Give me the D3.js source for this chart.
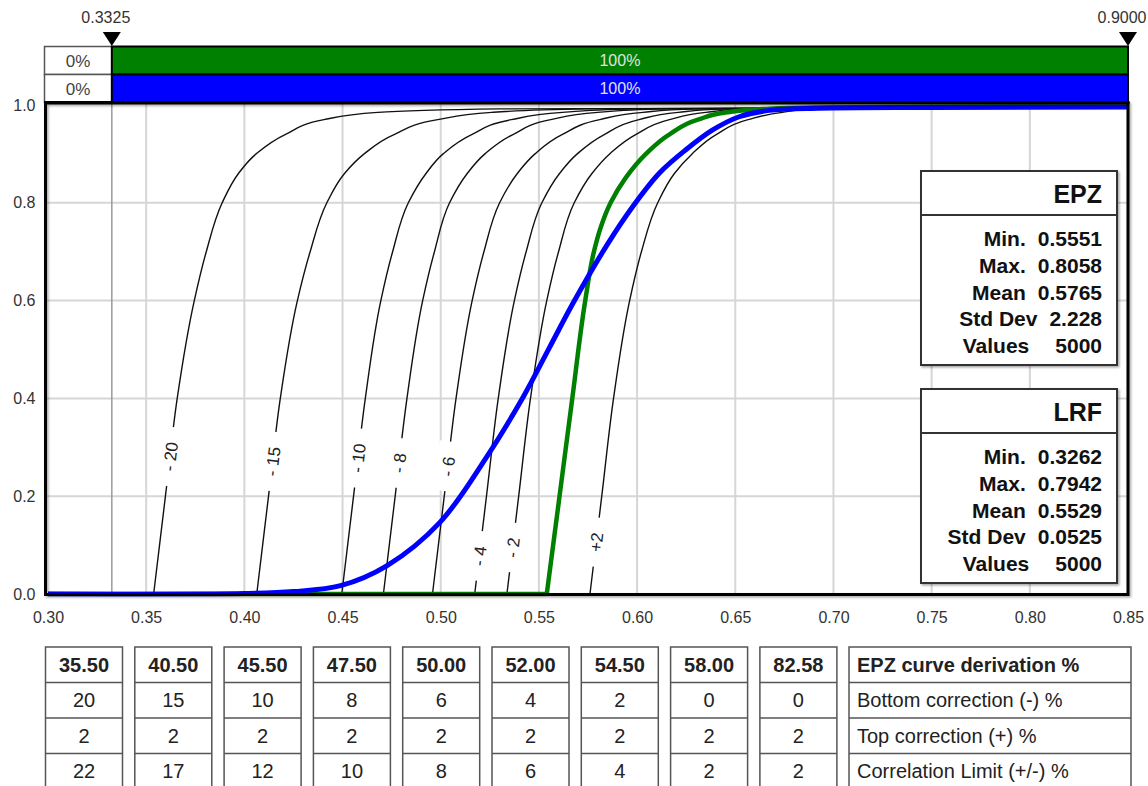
<!DOCTYPE html>
<html>
<head>
<meta charset="utf-8">
<script src="https://cdn.jsdelivr.net/npm/d3@7"></script>
<style>
  html, body { margin: 0; padding: 0; background: #fff; }
  svg { display: block; font-family: "Liberation Sans", Arial, Helvetica, sans-serif; }
</style>
</head>
<body>
<svg id="chart" width="1148" height="786"></svg>
<script>
// ---------------- data ----------------
const xTicks = [0.30, 0.35, 0.40, 0.45, 0.50, 0.55, 0.60, 0.65, 0.70, 0.75, 0.80, 0.85];
const yTicks = [0.0, 0.2, 0.4, 0.6, 0.8, 1.0];
const markerValues = [0.3325, 0.9000];

// share of each distribution below / inside the marker window
const bandSeries = ["EPZ", "LRF"];
const bandColors = ["#008000", "#0000ff"];
const belowShare = [0, 0];
const insideShare = [100, 100];

// EPZ cumulative curve (flat at zero up to its minimum, then rising)
const epzX = [0.30, 0.554, 0.5605, 0.567, 0.5736, 0.578, 0.5815, 0.5865, 0.594, 0.6045, 0.6165, 0.631, 0.646, 0.665, 0.69, 0.75, 0.85];
const epzY = [0, 0, 0.2, 0.4, 0.6, 0.7, 0.75, 0.8, 0.85, 0.9, 0.94, 0.97, 0.985, 0.992, 0.995, 0.9965, 0.997];

// LRF cumulative curve
const lrfX = [0.30, 0.40, 0.425, 0.449, 0.4727, 0.4997, 0.5235, 0.542, 0.5555, 0.5677, 0.5844, 0.5979, 0.6114, 0.625, 0.6385, 0.652, 0.6673, 0.6926, 0.75, 0.85];
const lrfY = [0, 0.001, 0.005, 0.017, 0.058, 0.147, 0.281, 0.403, 0.505, 0.597, 0.712, 0.793, 0.861, 0.909, 0.949, 0.976, 0.989, 0.9935, 0.995, 0.996];

// correction curves: x position of each curve at these cumulative levels
const familyLevels = [0, 0.2, 0.4, 0.6, 0.7, 0.8, 0.86, 0.9, 0.94, 0.97, 0.985, 0.992, 0.996];
const familyLabels = ["- 20", "- 15", "- 10", "- 8", "- 6", "- 4", "- 2", "+2"];
const curveMinus20 = [0.3538, 0.3598, 0.3658, 0.3745, 0.3806, 0.3887, 0.397, 0.406, 0.421, 0.4405, 0.468, 0.53, 0.85];
const curveMinus15 = [0.4063, 0.4123, 0.4183, 0.427, 0.4335, 0.442, 0.451, 0.461, 0.4765, 0.4985, 0.526, 0.575, 0.85];
const curveMinus10 = [0.4496, 0.4556, 0.4616, 0.4695, 0.4755, 0.4835, 0.4925, 0.5012, 0.516, 0.536, 0.562, 0.60, 0.85];
const curveMinus8  = [0.4708, 0.4768, 0.4828, 0.4908, 0.4968, 0.5045, 0.5135, 0.5225, 0.537, 0.556, 0.58, 0.615, 0.85];
const curveMinus6  = [0.4958, 0.5018, 0.5078, 0.516, 0.522, 0.530, 0.539, 0.548, 0.562, 0.581, 0.603, 0.63, 0.85];
const curveMinus4  = [0.5173, 0.5233, 0.5293, 0.5375, 0.5435, 0.5515, 0.5605, 0.5695, 0.5835, 0.601, 0.621, 0.645, 0.85];
const curveMinus2  = [0.5337, 0.5397, 0.5457, 0.554, 0.560, 0.568, 0.577, 0.586, 0.5995, 0.6165, 0.635, 0.655, 0.85];
const curvePlus2   = [0.576, 0.582, 0.588, 0.5962, 0.6022, 0.6105, 0.619, 0.628, 0.6405, 0.6565, 0.674, 0.69, 0.85];
const familyCurves = [curveMinus20, curveMinus15, curveMinus10, curveMinus8, curveMinus6, curveMinus4, curveMinus2, curvePlus2];
const familyLabelLevels = [0.281, 0.271, 0.278, 0.268, 0.261, 0.078, 0.095, 0.106];

// legend statistics
const statNames = ["Min.", "Max.", "Mean", "Std Dev", "Values"];
const epzStats = ["0.5551", "0.8058", "0.5765", "2.228", "5000"];
const lrfStats = ["0.3262", "0.7942", "0.5529", "0.0525", "5000"];

// derivation table
const derivation = ["35.50", "40.50", "45.50", "47.50", "50.00", "52.00", "54.50", "58.00", "82.58"];
const bottomCorrection = [20, 15, 10, 8, 6, 4, 2, 0, 0];
const topCorrection = [2, 2, 2, 2, 2, 2, 2, 2, 2];
const correlationLimit = [22, 17, 12, 10, 8, 6, 4, 2, 2];
const rowTitles = ["EPZ curve derivation %", "Bottom correction (-) %", "Top correction (+) %", "Correlation Limit (+/-) %"];

// ---------------- drawing ----------------
const svg = d3.select("#chart");
const x = d3.scaleLinear().domain([0.30, 0.85]).range([48, 1128]).clamp(true);
const y = d3.scaleLinear().domain([0, 1]).range([594, 105]);
const plotLeft = 45.5, plotRight = 1128, plotTop = 103, plotBottom = 594.5;

const defs = svg.append("defs");
const sh = defs.append("filter").attr("id", "soft").attr("x", "-10%").attr("y", "-10%").attr("width", "130%").attr("height", "130%");
sh.append("feDropShadow").attr("dx", 1.5).attr("dy", 1.5).attr("stdDeviation", 1.2)
  .attr("flood-color", "#000").attr("flood-opacity", 0.35);
const lsh = defs.append("filter").attr("id", "lineSoft").attr("x", "-5%").attr("y", "-50%").attr("width", "110%").attr("height", "200%");
lsh.append("feDropShadow").attr("dx", 0.8).attr("dy", 0.8).attr("stdDeviation", 0.8)
  .attr("flood-color", "#000").attr("flood-opacity", 0.3);
defs.append("clipPath").attr("id", "plotClip").append("rect")
  .attr("x", plotLeft).attr("y", plotTop - 4).attr("width", plotRight - plotLeft).attr("height", plotBottom - plotTop + 6);

// grid
const grid = svg.append("g");
grid.selectAll("line.gx").data(xTicks.slice(1, -1)).join("line")
  .attr("x1", d => x(d)).attr("x2", d => x(d)).attr("y1", plotTop).attr("y2", plotBottom)
  .attr("stroke", "#d6d6d6").attr("stroke-width", 2);
grid.selectAll("line.gy").data(yTicks.slice(1, -1)).join("line")
  .attr("x1", plotLeft).attr("x2", plotRight).attr("y1", d => y(d)).attr("y2", d => y(d))
  .attr("stroke", "#d6d6d6").attr("stroke-width", 2);
grid.append("line")
  .attr("x1", x(markerValues[0])).attr("x2", x(markerValues[0])).attr("y1", plotTop).attr("y2", plotBottom)
  .attr("stroke", "#9a9a9a").attr("stroke-width", 1.5);

// steep cumulative curves are interpolated monotone in y; the S-shaped LRF uses a centripetal spline
const lineY = d3.line().x(d => x(d[0])).y(d => y(d[1])).curve(d3.curveMonotoneY);
const lineS = d3.line().x(d => x(d[0])).y(d => y(d[1])).curve(d3.curveCatmullRom.alpha(0.5));
const lineFlat = d3.line().x(d => x(d[0])).y(d => y(d[1]));
const plot = svg.append("g").attr("clip-path", "url(#plotClip)");

// correction curves
familyCurves.forEach(xs => {
  const pts = xs.map((v, i) => [v, familyLevels[i]]);
  plot.append("path").attr("d", lineY(pts)).attr("fill", "none")
    .attr("stroke", "#111").attr("stroke-width", 1.4);
});

// curve labels sitting in a gap of their curve
familyCurves.forEach((xs, k) => {
  const L = familyLabelLevels[k];
  let i = 0;
  while (i < familyLevels.length - 2 && familyLevels[i + 1] < L) i++;
  const t = (L - familyLevels[i]) / (familyLevels[i + 1] - familyLevels[i]);
  const vx = xs[i] + t * (xs[i + 1] - xs[i]);
  const px = x(vx), py = y(L);
  const dx = x(xs[i + 1]) - x(xs[i]), dy = y(familyLevels[i + 1]) - y(familyLevels[i]);
  const ang = Math.atan2(dy, dx) * 180 / Math.PI;
  const g = svg.append("g").attr("transform", `translate(${px},${py}) rotate(${ang})`);
  const rect = g.append("rect").attr("fill", "#fff");
  const txt = g.append("text").text(familyLabels[k])
    .attr("text-anchor", "middle").attr("dy", "0.36em")
    .attr("font-size", 17).attr("fill", "#222").style("white-space", "pre");
  const w = txt.node().getComputedTextLength();
  rect.attr("x", -w / 2 - 15).attr("y", -11).attr("width", w + 30).attr("height", 22);
});

// EPZ curve: flat run along zero, then the rising part
const epzPts = epzX.map((v, i) => [v, epzY[i]]);
plot.append("path").attr("d", lineFlat(epzPts.slice(0, 2)) + lineY(epzPts.slice(1)).replace(/^M/, "L"))
  .attr("fill", "none").attr("stroke", "#008000").attr("stroke-width", 4.5).attr("stroke-linejoin", "round");
// LRF curve
plot.append("path").attr("d", lineS(lrfX.map((v, i) => [v, lrfY[i]])))
  .attr("fill", "none").attr("stroke", "#0000ff").attr("stroke-width", 5).attr("stroke-linejoin", "round");

// plot frame
svg.append("rect").attr("x", plotLeft).attr("y", plotTop).attr("width", plotRight - plotLeft)
  .attr("height", plotBottom - plotTop).attr("fill", "none").attr("stroke", "#000").attr("stroke-width", 3)
  .attr("filter", "url(#soft)");

// share bands above the plot
const bandTop = 46.5, bandH = 28;
const xa = x(markerValues[0]), xb = x(markerValues[1]);
bandSeries.forEach((s, i) => {
  const by = bandTop + i * bandH;
  svg.append("rect").attr("x", 44.5).attr("y", by).attr("width", xa - 44.5).attr("height", bandH)
    .attr("fill", "#fff").attr("stroke", "#555").attr("stroke-width", 1.5);
  svg.append("text").attr("x", (44.5 + xa) / 2).attr("y", by + bandH / 2).attr("dy", "0.36em")
    .attr("text-anchor", "middle").attr("font-size", 17).attr("fill", "#444").text(belowShare[i] + "%");
  svg.append("rect").attr("x", xa).attr("y", by).attr("width", xb - xa).attr("height", bandH)
    .attr("fill", bandColors[i]).attr("stroke", "#000").attr("stroke-width", 2);
  svg.append("text").attr("x", (xa + xb) / 2).attr("y", by + bandH / 2).attr("dy", "0.36em")
    .attr("text-anchor", "middle").attr("font-size", 16).attr("fill", "#e2e2e2").text(insideShare[i] + "%");
});
svg.append("line").attr("x1", 44).attr("x2", plotRight + 1.5).attr("y1", plotTop - 0.5).attr("y2", plotTop - 0.5)
  .attr("stroke", "#000").attr("stroke-width", 3);

// window markers
markerValues.forEach(v => {
  const mx = x(v);
  svg.append("path").attr("d", `M${mx - 9},32 L${mx + 9},32 L${mx},46 Z`).attr("fill", "#000");
  svg.append("text").attr("x", mx - 6).attr("y", 23).attr("text-anchor", "middle")
    .attr("font-size", 16).attr("fill", "#333").text(v.toFixed(4));
});

// axes
svg.append("g").attr("transform", `translate(0,${plotBottom + 5})`)
  .call(d3.axisBottom(x).tickValues(xTicks).tickFormat(d3.format(".2f")).tickSize(0).tickPadding(12))
  .call(g => g.select(".domain").remove())
  .call(g => g.selectAll("text").attr("font-size", 16).attr("fill", "#333").attr("font-family", "Liberation Sans, Arial, sans-serif"));
svg.append("g").attr("transform", `translate(${plotLeft - 10},0)`)
  .call(d3.axisLeft(y).tickValues(yTicks).tickFormat(d3.format(".1f")).tickSize(0).tickPadding(0))
  .call(g => g.select(".domain").remove())
  .call(g => g.selectAll("text").attr("font-size", 16).attr("fill", "#333").attr("font-family", "Liberation Sans, Arial, sans-serif"));

// legend boxes
function legendBox(top, name, color, stats) {
  const g = svg.append("g");
  const left = 921, width = 196, height = 194, headH = 44;
  g.append("rect").attr("x", left).attr("y", top).attr("width", width).attr("height", height)
    .attr("fill", "#fff").attr("stroke", "#333").attr("stroke-width", 2).attr("filter", "url(#soft)");
  g.append("line").attr("x1", left).attr("x2", left + width).attr("y1", top + headH).attr("y2", top + headH)
    .attr("stroke", "#333").attr("stroke-width", 2);
  g.append("line").attr("x1", 936).attr("x2", 1034).attr("y1", top + 23).attr("y2", top + 23)
    .attr("stroke", color).attr("stroke-width", 5).attr("filter", "url(#lineSoft)");
  g.append("text").attr("x", 1102).attr("y", top + 32).attr("text-anchor", "end")
    .attr("font-size", 25).attr("font-weight", "bold").attr("fill", "#111").text(name);
  statNames.forEach((s, i) => {
    const by = top + 75 + i * 26.8;
    const val = g.append("text").attr("x", 1102).attr("y", by).attr("text-anchor", "end")
      .attr("font-size", 21).attr("font-weight", "bold").attr("fill", "#111").text(stats[i]);
    const w = val.node().getComputedTextLength();
    const gap = s === "Values" ? 26 : 12;
    g.append("text").attr("x", 1102 - w - gap).attr("y", by).attr("text-anchor", "end")
      .attr("font-size", 21).attr("font-weight", "bold").attr("fill", "#111").text(s);
  });
}
legendBox(171, "EPZ", "#008000", epzStats);
legendBox(389, "LRF", "#0000ff", lrfStats);

// derivation table
const tableTop = 647, rowH = 35.5, cellW = 77;
const tableRows = [derivation, bottomCorrection, topCorrection, correlationLimit];
const colX = d3.scaleLinear().domain([0, 1]).range([45.5, 134.8]);
derivation.forEach((d, c) => {
  const cx = colX(c);
  svg.append("rect").attr("x", cx).attr("y", tableTop).attr("width", cellW).attr("height", rowH * 4)
    .attr("fill", "#fff").attr("stroke", "#555").attr("stroke-width", 1.5);
  tableRows.forEach((row, r) => {
    if (r > 0) svg.append("line").attr("x1", cx).attr("x2", cx + cellW)
      .attr("y1", tableTop + r * rowH).attr("y2", tableTop + r * rowH).attr("stroke", "#555").attr("stroke-width", 1.5);
    svg.append("text").attr("x", cx + cellW / 2).attr("y", tableTop + r * rowH + rowH / 2).attr("dy", "0.36em")
      .attr("text-anchor", "middle").attr("font-size", 20).attr("font-weight", r === 0 ? "bold" : "normal")
      .attr("fill", "#222").text(row[c]);
  });
});
const labX = 849, labW = 282;
svg.append("rect").attr("x", labX).attr("y", tableTop).attr("width", labW).attr("height", rowH * 4)
  .attr("fill", "#fff").attr("stroke", "#555").attr("stroke-width", 1.5);
rowTitles.forEach((t, r) => {
  if (r > 0) svg.append("line").attr("x1", labX).attr("x2", labX + labW)
    .attr("y1", tableTop + r * rowH).attr("y2", tableTop + r * rowH).attr("stroke", "#555").attr("stroke-width", 1.5);
  svg.append("text").attr("x", labX + 8).attr("y", tableTop + r * rowH + rowH / 2).attr("dy", "0.36em")
    .attr("font-size", 20).attr("font-weight", r === 0 ? "bold" : "normal").attr("fill", "#222").text(t);
});
</script>
</body>
</html>
